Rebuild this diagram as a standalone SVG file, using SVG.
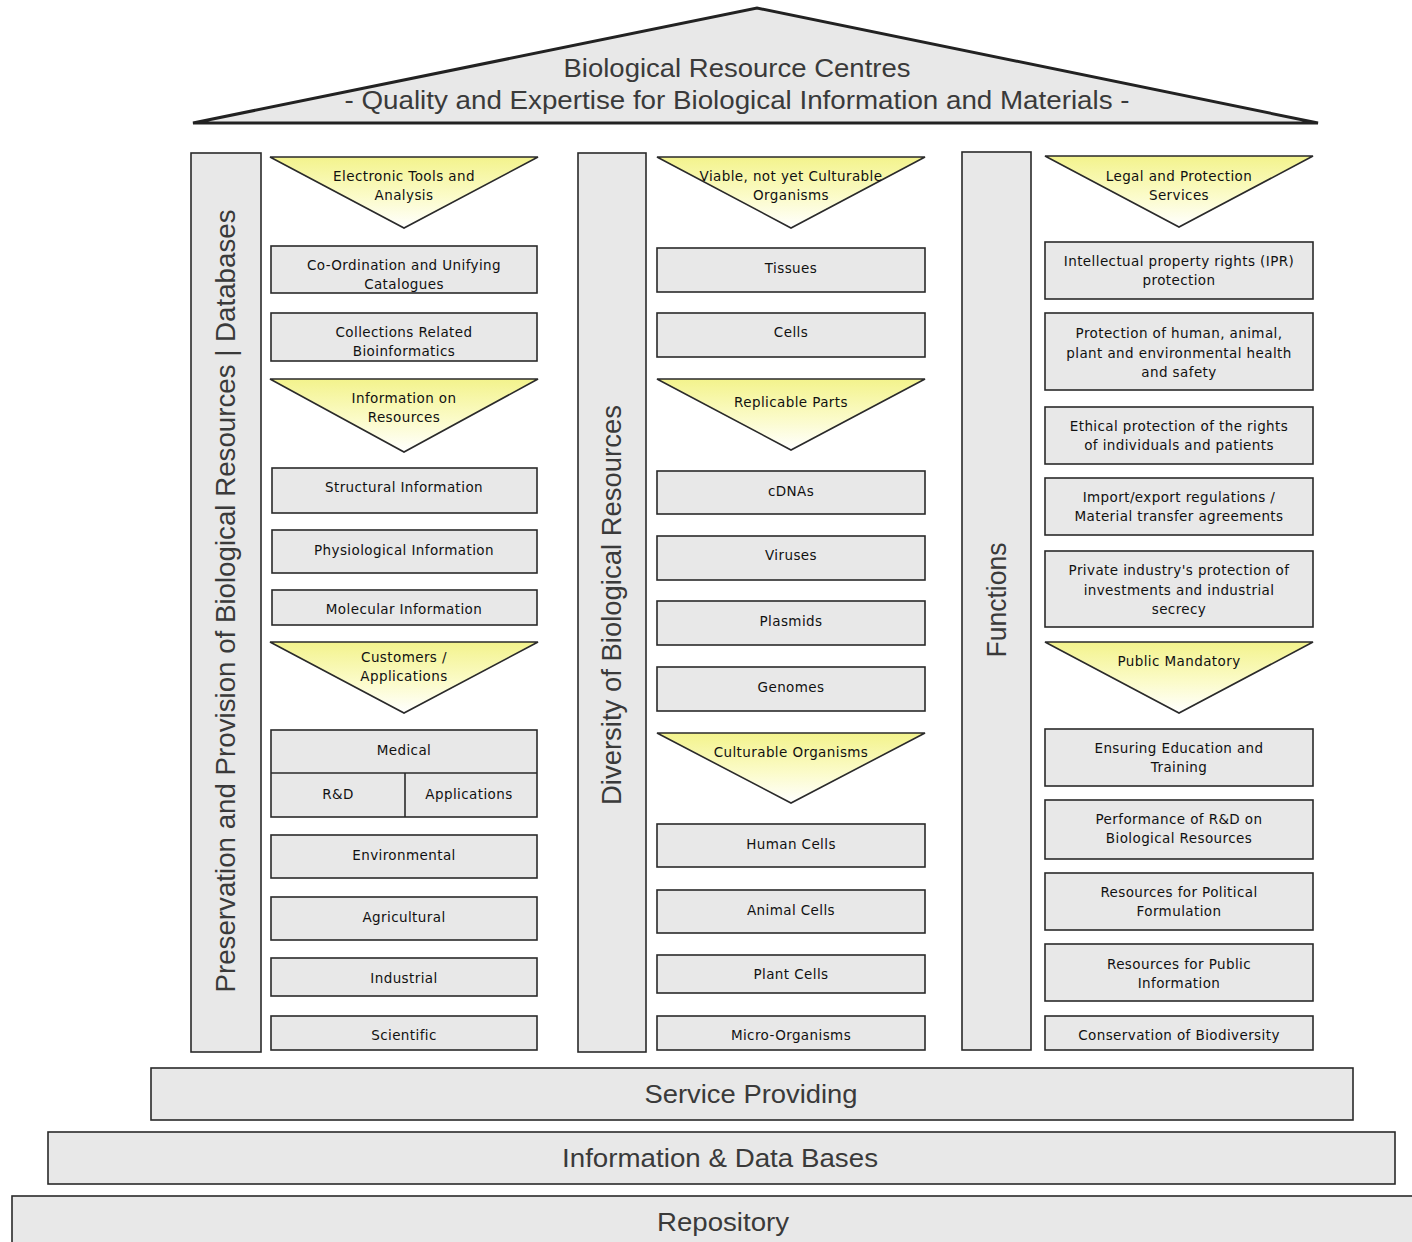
<svg xmlns="http://www.w3.org/2000/svg" width="1412" height="1242" viewBox="0 0 1412 1242">
<defs>
<linearGradient id="yg" x1="0" y1="0" x2="0" y2="1">
<stop offset="0" stop-color="#f3f38c"/>
<stop offset="0.55" stop-color="#fbfbc8"/>
<stop offset="1" stop-color="#ffffff"/>
</linearGradient>
<style>
.box{fill:#e8e8e8;stroke:#2a2a2a;stroke-width:1.6}
.pil{fill:#e8e8e8;stroke:#2a2a2a;stroke-width:1.6}
.tri{fill:url(#yg);stroke:#2a2a2a;stroke-width:1.6}
.t{font-family:"DejaVu Sans",Verdana,sans-serif;font-size:13.5px;letter-spacing:0.4px;fill:#111;text-anchor:middle}
.big{font-family:"Liberation Sans",Arial,sans-serif;font-size:26px;fill:#3a3a3a;text-anchor:middle}
.vert{font-family:"Liberation Sans",Arial,sans-serif;font-size:27px;fill:#3a3a3a;text-anchor:middle}
</style>
</defs>
<rect width="1412" height="1242" fill="#ffffff"/>

<g id="roof">
<polygon points="193,123 757,8 1318,123" fill="#e8e8e8" stroke="#222" stroke-width="3" stroke-linejoin="miter"/>
<text class="big" x="737" y="77" textLength="347" lengthAdjust="spacingAndGlyphs">Biological Resource Centres</text>
<text class="big" x="737" y="109" textLength="785" lengthAdjust="spacingAndGlyphs">- Quality and Expertise for Biological Information and Materials -</text>
</g>

<!-- Left column -->
<g id="pillar-left">
<rect class="pil" x="191" y="153" width="70" height="899"/>
<text class="vert" transform="translate(235,601) rotate(-90)" x="0" y="0" textLength="783" lengthAdjust="spacingAndGlyphs">Preservation and Provision of Biological Resources | Databases</text>
</g>
<g id="tri-electronic">
<polygon class="tri" points="270,157 538,157 404,228"/>
<text class="t" x="404" y="181">Electronic Tools and</text>
<text class="t" x="404" y="200">Analysis</text>
</g>
<g id="box-coordination">
<rect class="box" x="271" y="246" width="266" height="47"/>
<text class="t" x="404" y="270">Co-Ordination and Unifying</text>
<text class="t" x="404" y="289">Catalogues</text>
</g>
<g id="box-collections">
<rect class="box" x="271" y="313" width="266" height="48"/>
<text class="t" x="404" y="337">Collections Related</text>
<text class="t" x="404" y="356">Bioinformatics</text>
</g>
<g id="tri-information">
<polygon class="tri" points="270,379 538,379 404,452"/>
<text class="t" x="404" y="403">Information on</text>
<text class="t" x="404" y="422">Resources</text>
</g>
<g id="box-structural">
<rect class="box" x="272" y="468" width="265" height="45"/>
<text class="t" x="404" y="492">Structural Information</text>
</g>
<g id="box-physiological">
<rect class="box" x="272" y="530" width="265" height="43"/>
<text class="t" x="404" y="555">Physiological Information</text>
</g>
<g id="box-molecular">
<rect class="box" x="272" y="590" width="265" height="35"/>
<text class="t" x="404" y="614">Molecular Information</text>
</g>
<g id="tri-customers">
<polygon class="tri" points="270,642 538,642 404,713"/>
<text class="t" x="404" y="662">Customers /</text>
<text class="t" x="404" y="681">Applications</text>
</g>
<g id="box-medical">
<rect class="box" x="271" y="730" width="266" height="87"/>
<line x1="271" y1="773" x2="537" y2="773" stroke="#2a2a2a" stroke-width="1.6"/>
<line x1="405" y1="773" x2="405" y2="817" stroke="#2a2a2a" stroke-width="1.6"/>
<text class="t" x="404" y="755">Medical</text>
<text class="t" x="338" y="799">R&amp;D</text>
<text class="t" x="469" y="799">Applications</text>
</g>
<g id="box-environmental">
<rect class="box" x="271" y="835" width="266" height="43"/>
<text class="t" x="404" y="860">Environmental</text>
</g>
<g id="box-agricultural">
<rect class="box" x="271" y="897" width="266" height="43"/>
<text class="t" x="404" y="922">Agricultural</text>
</g>
<g id="box-industrial">
<rect class="box" x="271" y="958" width="266" height="38"/>
<text class="t" x="404" y="983">Industrial</text>
</g>
<g id="box-scientific">
<rect class="box" x="271" y="1016" width="266" height="34"/>
<text class="t" x="404" y="1040">Scientific</text>
</g>

<!-- Middle column -->
<g id="pillar-middle">
<rect class="pil" x="578" y="153" width="68" height="899"/>
<text class="vert" transform="translate(621,605) rotate(-90)" x="0" y="0" textLength="400" lengthAdjust="spacingAndGlyphs">Diversity of Biological Resources</text>
</g>
<g id="tri-viable">
<polygon class="tri" points="657,157 925,157 791,228"/>
<text class="t" x="791" y="181">Viable, not yet Culturable</text>
<text class="t" x="791" y="200">Organisms</text>
</g>
<g id="box-tissues">
<rect class="box" x="657" y="248" width="268" height="44"/>
<text class="t" x="791" y="273">Tissues</text>
</g>
<g id="box-cells">
<rect class="box" x="657" y="313" width="268" height="44"/>
<text class="t" x="791" y="337">Cells</text>
</g>
<g id="tri-replicable">
<polygon class="tri" points="657,379 925,379 791,450"/>
<text class="t" x="791" y="407">Replicable Parts</text>
</g>
<g id="box-cdnas">
<rect class="box" x="657" y="471" width="268" height="43"/>
<text class="t" x="791" y="496">cDNAs</text>
</g>
<g id="box-viruses">
<rect class="box" x="657" y="536" width="268" height="44"/>
<text class="t" x="791" y="560">Viruses</text>
</g>
<g id="box-plasmids">
<rect class="box" x="657" y="601" width="268" height="44"/>
<text class="t" x="791" y="626">Plasmids</text>
</g>
<g id="box-genomes">
<rect class="box" x="657" y="667" width="268" height="44"/>
<text class="t" x="791" y="692">Genomes</text>
</g>
<g id="tri-culturable">
<polygon class="tri" points="657,733 925,733 791,803"/>
<text class="t" x="791" y="757">Culturable Organisms</text>
</g>
<g id="box-human">
<rect class="box" x="657" y="824" width="268" height="43"/>
<text class="t" x="791" y="849">Human Cells</text>
</g>
<g id="box-animal">
<rect class="box" x="657" y="890" width="268" height="43"/>
<text class="t" x="791" y="915">Animal Cells</text>
</g>
<g id="box-plant">
<rect class="box" x="657" y="955" width="268" height="38"/>
<text class="t" x="791" y="979">Plant Cells</text>
</g>
<g id="box-micro">
<rect class="box" x="657" y="1016" width="268" height="34"/>
<text class="t" x="791" y="1040">Micro-Organisms</text>
</g>

<!-- Right column -->
<g id="pillar-right">
<rect class="pil" x="962" y="152" width="69" height="898"/>
<text class="vert" transform="translate(1006,600) rotate(-90)" x="0" y="0" textLength="115" lengthAdjust="spacingAndGlyphs">Functions</text>
</g>
<g id="tri-legal">
<polygon class="tri" points="1045,156 1313,156 1179,227"/>
<text class="t" x="1179" y="181">Legal and Protection</text>
<text class="t" x="1179" y="200">Services</text>
</g>
<g id="box-ipr">
<rect class="box" x="1045" y="242" width="268" height="57"/>
<text class="t" x="1179" y="266">Intellectual property rights (IPR)</text>
<text class="t" x="1179" y="285">protection</text>
</g>
<g id="box-protection">
<rect class="box" x="1045" y="313" width="268" height="77"/>
<text class="t" x="1179" y="338">Protection of human, animal,</text>
<text class="t" x="1179" y="358">plant and environmental health</text>
<text class="t" x="1179" y="377">and safety</text>
</g>
<g id="box-ethical">
<rect class="box" x="1045" y="407" width="268" height="57"/>
<text class="t" x="1179" y="431">Ethical protection of the rights</text>
<text class="t" x="1179" y="450">of individuals and patients</text>
</g>
<g id="box-import">
<rect class="box" x="1045" y="478" width="268" height="57"/>
<text class="t" x="1179" y="502">Import/export regulations  /</text>
<text class="t" x="1179" y="521">Material transfer agreements</text>
</g>
<g id="box-private">
<rect class="box" x="1045" y="551" width="268" height="76"/>
<text class="t" x="1179" y="575">Private industry's protection of</text>
<text class="t" x="1179" y="595">investments and industrial</text>
<text class="t" x="1179" y="614">secrecy</text>
</g>
<g id="tri-public">
<polygon class="tri" points="1045,642 1313,642 1179,713"/>
<text class="t" x="1179" y="666">Public Mandatory</text>
</g>
<g id="box-education">
<rect class="box" x="1045" y="729" width="268" height="57"/>
<text class="t" x="1179" y="753">Ensuring Education and</text>
<text class="t" x="1179" y="772">Training</text>
</g>
<g id="box-performance">
<rect class="box" x="1045" y="800" width="268" height="59"/>
<text class="t" x="1179" y="824">Performance of R&amp;D on</text>
<text class="t" x="1179" y="843">Biological Resources</text>
</g>
<g id="box-political">
<rect class="box" x="1045" y="873" width="268" height="57"/>
<text class="t" x="1179" y="897">Resources for Political</text>
<text class="t" x="1179" y="916">Formulation</text>
</g>
<g id="box-publicinfo">
<rect class="box" x="1045" y="944" width="268" height="57"/>
<text class="t" x="1179" y="969">Resources for Public</text>
<text class="t" x="1179" y="988">Information</text>
</g>
<g id="box-conservation">
<rect class="box" x="1045" y="1016" width="268" height="34"/>
<text class="t" x="1179" y="1040">Conservation of Biodiversity</text>
</g>

<!-- Foundation -->
<g id="service-providing">
<rect class="box" x="151" y="1068" width="1202" height="52"/>
<text class="big" x="751" y="1103" textLength="213" lengthAdjust="spacingAndGlyphs">Service Providing</text>
</g>
<g id="information-databases">
<rect class="box" x="48" y="1132" width="1347" height="52"/>
<text class="big" x="720" y="1167" textLength="316" lengthAdjust="spacingAndGlyphs">Information &amp; Data Bases</text>
</g>
<g id="repository">
<rect class="box" x="12" y="1196" width="1420" height="60"/>
<text class="big" x="723" y="1231" textLength="132" lengthAdjust="spacingAndGlyphs">Repository</text>
</g>

<g id="connectors"></g>
</svg>
